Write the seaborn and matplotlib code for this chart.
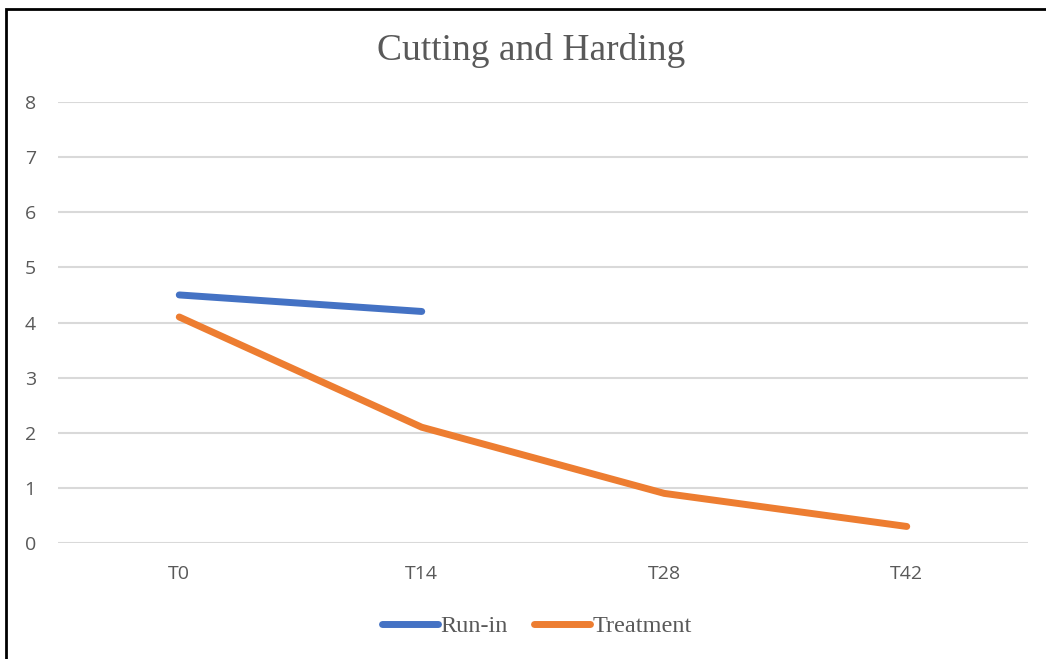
import matplotlib
matplotlib.use("Agg")
import matplotlib.pyplot as plt
import numpy as np
import pandas as pd
import seaborn as sns
from matplotlib.patches import Rectangle

# Data
timepoints = ["T0", "T14", "T28", "T42"]
run_in = [4.5, 4.2, np.nan, np.nan]
treatment = [4.1, 2.1, 0.9, 0.3]
y_ticks = [0, 1, 2, 3, 4, 5, 6, 7, 8]

df = pd.DataFrame({
    "time": timepoints * 2,
    "value": run_in + treatment,
    "series": ["Run-in"] * len(timepoints) + ["Treatment"] * len(timepoints),
}).dropna()
df["pos"] = df["time"].map({t: i for i, t in enumerate(timepoints)})

sns.set_theme(style="white")
plt.rcParams["font.family"] = ["Open Sans", "DejaVu Sans"]

W, H = 1046, 659
fig = plt.figure(figsize=(W / 100, H / 100), dpi=100)
ax = fig.add_axes([58 / W, 1 - 543 / H, 970 / W, 441 / H])

palette = {"Run-in": "#4472C4", "Treatment": "#ED7D31"}
sns.lineplot(data=df, x="pos", y="value", hue="series", palette=palette,
             linewidth=5, ax=ax, legend=False, sort=False,
             solid_capstyle="round", solid_joinstyle="round", zorder=3)

ax.set_xlim(-0.5, len(timepoints) - 0.5)
ax.set_ylim(0, 8)
ax.set_yticks(y_ticks)
ax.set_xticks(range(len(timepoints)))
ax.set_xticklabels(timepoints)
ax.set_xlabel("")
ax.set_ylabel("")
ax.grid(axis="y", color="#D9D9D9", linewidth=1.5)
ax.grid(axis="x", visible=False)
for s in ax.spines.values():
    s.set_visible(False)
ax.tick_params(axis="both", length=0, labelsize=14, colors="#595959")
ax.tick_params(axis="y", pad=16)
ax.tick_params(axis="x", pad=16)

fig.text(531 / W, 1 - 50 / H, "Cutting and Harding", ha="center", va="center",
         family="Liberation Serif", fontsize=27, color="#595959")

handles = [plt.Line2D([], [], color=palette[k], linewidth=5, solid_capstyle="round")
           for k in ["Run-in", "Treatment"]]
fig.legend(handles, ["Run-in", "Treatment"], loc="center", bbox_to_anchor=(537 / W, 1 - 626 / H),
           ncol=2, frameon=False, prop={"family": "Liberation Serif", "size": 17.5},
           labelcolor="#595959", handlelength=2.3, handletextpad=0.1, columnspacing=1.1)

fig.patches.append(Rectangle((6 / W, -0.1), 1.2, 1 - 9 / H + 0.1, transform=fig.transFigure,
                             fill=False, edgecolor="black", linewidth=2))

fig.savefig("out.png", dpi=100, facecolor="white")
